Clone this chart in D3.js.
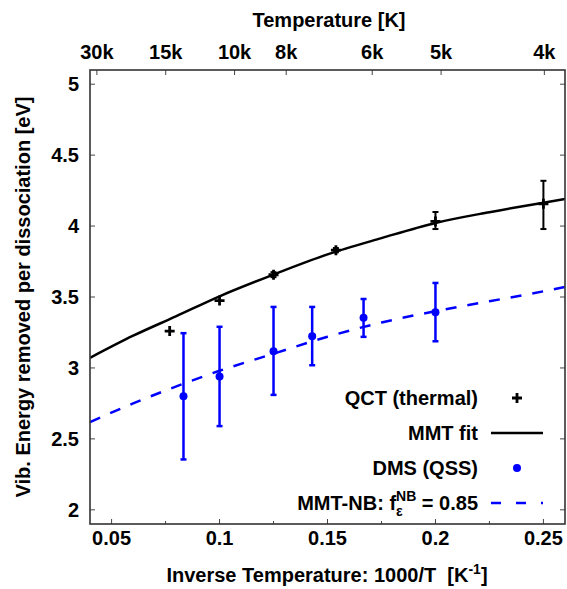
<!DOCTYPE html>
<html>
<head>
<meta charset="utf-8">
<script src="https://cdn.jsdelivr.net/npm/d3@7"></script>
<style>
  html, body { margin: 0; padding: 0; background: #fff; }
  svg text { font-family: "Liberation Sans", Arial, Helvetica, sans-serif; font-weight: bold; fill: #000; }
</style>
</head>
<body>
<div id="chart"></div>
<script>
// QCT (thermal) points, 1000/T vs energy [eV]
const qctX = [0.0769, 0.1, 0.125, 0.1539, 0.2, 0.25];
const qctY = [3.26, 3.475, 3.657, 3.83, 4.033, 4.157];
const qctLo = [null, null, 3.64, 3.815, 3.979, 3.979];
const qctHi = [null, null, 3.675, 3.845, 4.099, 4.319];

// DMS (QSS) points with error bars
const dmsX = [0.0833, 0.1, 0.125, 0.1429, 0.1667, 0.2];
const dmsY = [2.80, 2.94, 3.118, 3.223, 3.353, 3.392];
const dmsLo = [2.355, 2.59, 2.81, 3.019, 3.219, 3.188];
const dmsHi = [3.245, 3.29, 3.43, 3.43, 3.486, 3.599];

// MMT fit curve
const mmtX = [0.04, 0.06, 0.08, 0.1, 0.125, 0.15, 0.175, 0.2, 0.225, 0.25, 0.26];
const mmtY = [3.071, 3.227, 3.365, 3.505, 3.658, 3.80, 3.915, 4.022, 4.098, 4.165, 4.19];

// MMT-NB curve, f = 0.85
const nbX = [0.04, 0.06, 0.08, 0.1, 0.125, 0.15, 0.175, 0.2, 0.225, 0.25, 0.26];
const nbY = [2.618, 2.75, 2.87, 2.98, 3.10, 3.22, 3.32, 3.40, 3.47, 3.54, 3.571];

// axes
const xTicks = [0.05, 0.1, 0.15, 0.2, 0.25];
const xMinor = [0.075, 0.125, 0.175, 0.225];
const yTicks = [2, 2.5, 3, 3.5, 4, 4.5, 5];
const topTemps = [30000, 15000, 10000, 8000, 6000, 5000, 4000];
const topLabels = ['30k', '15k', '10k', '8k', '6k', '5k', '4k'];

const width = 567;
const height = 589;
const margin = { top: 70, right: 2, bottom: 65, left: 90 };
const fs = '20px';

const svg = d3.select('#chart')
  .append('svg')
  .attr('width', width)
  .attr('height', height);

const x = d3.scaleLinear().domain([0.04, 0.26]).range([margin.left, width - margin.right]);
const x2 = d3.scaleLinear().domain([0.03, 0.26]).range([margin.left, width - margin.right]);
const y = d3.scaleLinear().domain([1.9, 5.1]).range([height - margin.bottom, margin.top]);

const x0 = x.range()[0], x1 = x.range()[1];
const yB = y.range()[0], yT = y.range()[1];

// clip for the curves
svg.append('clipPath').attr('id', 'plot-clip')
  .append('rect')
  .attr('x', x0).attr('y', yT)
  .attr('width', x1 - x0).attr('height', yB - yT);

// ticks
const tickColor = '#444';
const ticks = svg.append('g').attr('class', 'ticks')
  .attr('stroke', tickColor).attr('stroke-width', 1);

xTicks.forEach(v => {
  ticks.append('line').attr('x1', x(v)).attr('x2', x(v)).attr('y1', yB).attr('y2', yB - 5);
});
xMinor.forEach(v => {
  ticks.append('line').attr('x1', x(v)).attr('x2', x(v)).attr('y1', yB).attr('y2', yB - 3);
});
yTicks.forEach(v => {
  ticks.append('line').attr('x1', x0).attr('x2', x0 + 5).attr('y1', y(v)).attr('y2', y(v));
  ticks.append('line').attr('x1', x1).attr('x2', x1 - 5).attr('y1', y(v)).attr('y2', y(v));
});
topTemps.forEach(t => {
  const v = 1000 / t;
  ticks.append('line').attr('x1', x2(v)).attr('x2', x2(v)).attr('y1', yT).attr('y2', yT + 5);
});

// tick labels
svg.append('g').selectAll('text')
  .data(xTicks)
  .enter()
  .append('text')
  .attr('x', d => x(d))
  .attr('y', 545)
  .attr('text-anchor', 'middle')
  .style('font-size', fs)
  .text(d => d);

svg.append('g').selectAll('text')
  .data(yTicks)
  .enter()
  .append('text')
  .attr('x', 79)
  .attr('y', d => y(d))
  .attr('dy', '0.36em')
  .attr('text-anchor', 'end')
  .style('font-size', fs)
  .text(d => d);

svg.append('g').selectAll('text')
  .data(topTemps)
  .enter()
  .append('text')
  .attr('x', d => x2(1000 / d))
  .attr('y', 59)
  .attr('text-anchor', 'middle')
  .style('font-size', fs)
  .text((d, i) => topLabels[i]);

// axis titles
svg.append('text')
  .attr('x', 329)
  .attr('y', 27)
  .attr('text-anchor', 'middle')
  .style('font-size', fs)
  .text('Temperature [K]');

const xl = svg.append('text')
  .attr('x', 327)
  .attr('y', 582)
  .attr('text-anchor', 'middle')
  .style('font-size', fs);
xl.append('tspan').text('Inverse Temperature: 1000/T\u00a0\u00a0[K');
xl.append('tspan').attr('dy', -8).style('font-size', '14px').text('-1');
xl.append('tspan').attr('dy', 8).text(']');

svg.append('text')
  .attr('transform', `translate(30, ${(yT + yB) / 2}) rotate(-90)`)
  .attr('text-anchor', 'middle')
  .style('font-size', fs)
  .text('Vib. Energy removed per dissociation [eV]');

// curves
const line = d3.line()
  .x(d => x(d[0]))
  .y(d => y(d[1]))
  .curve(d3.curveMonotoneX);

const plot = svg.append('g').attr('clip-path', 'url(#plot-clip)');

plot.append('path')
  .datum(mmtX.map((v, i) => [v, mmtY[i]]))
  .attr('d', line)
  .attr('fill', 'none')
  .attr('stroke', '#000')
  .attr('stroke-width', 2.5);

plot.append('path')
  .datum(nbX.map((v, i) => [v, nbY[i]]))
  .attr('d', line)
  .attr('fill', 'none')
  .attr('stroke', '#0000ff')
  .attr('stroke-width', 2.5)
  .attr('stroke-dasharray', '11,11');

// QCT error bars and crosses
const qct = qctX.map((v, i) => ({ x: v, y: qctY[i], lo: qctLo[i], hi: qctHi[i] }));

const qctBars = plot.append('g')
  .attr('stroke', '#000')
  .attr('stroke-width', 2)
  .selectAll('g')
  .data(qct.filter(d => d.lo !== null))
  .enter()
  .append('g');

qctBars.append('line')
  .attr('x1', d => x(d.x)).attr('x2', d => x(d.x))
  .attr('y1', d => y(d.lo)).attr('y2', d => y(d.hi));
qctBars.append('line')
  .attr('x1', d => x(d.x) - 3).attr('x2', d => x(d.x) + 3)
  .attr('y1', d => y(d.lo)).attr('y2', d => y(d.lo));
qctBars.append('line')
  .attr('x1', d => x(d.x) - 3).attr('x2', d => x(d.x) + 3)
  .attr('y1', d => y(d.hi)).attr('y2', d => y(d.hi));

plot.append('g')
  .selectAll('path')
  .data(qct)
  .enter()
  .append('path')
  .attr('d', 'M-5,0H5M0,-5V5')
  .attr('transform', d => `translate(${x(d.x)}, ${y(d.y)})`)
  .attr('stroke', '#000')
  .attr('stroke-width', 2.8)
  .attr('fill', 'none');

// DMS error bars and dots
const dms = dmsX.map((v, i) => ({ x: v, y: dmsY[i], lo: dmsLo[i], hi: dmsHi[i] }));

const dmsBars = plot.append('g')
  .attr('stroke', '#0000ff')
  .attr('stroke-width', 2.5)
  .selectAll('g')
  .data(dms)
  .enter()
  .append('g');

dmsBars.append('line')
  .attr('x1', d => x(d.x)).attr('x2', d => x(d.x))
  .attr('y1', d => y(d.lo)).attr('y2', d => y(d.hi));
dmsBars.append('line')
  .attr('x1', d => x(d.x) - 3).attr('x2', d => x(d.x) + 3)
  .attr('y1', d => y(d.lo)).attr('y2', d => y(d.lo));
dmsBars.append('line')
  .attr('x1', d => x(d.x) - 3).attr('x2', d => x(d.x) + 3)
  .attr('y1', d => y(d.hi)).attr('y2', d => y(d.hi));

plot.append('g')
  .selectAll('circle')
  .data(dms)
  .enter()
  .append('circle')
  .attr('cx', d => x(d.x))
  .attr('cy', d => y(d.y))
  .attr('r', 4)
  .attr('fill', '#0000ff');

// frame
svg.append('rect')
  .attr('x', x0).attr('y', yT)
  .attr('width', x1 - x0).attr('height', yB - yT)
  .attr('fill', 'none')
  .attr('stroke', '#333')
  .attr('stroke-width', 1.6);

// legend
const legend = svg.append('g').attr('class', 'legend');
const legX = 478, sx0 = 491, sx1 = 543, sxc = 517;
const rows = [398, 433, 468, 503];

legend.append('text').attr('x', legX).attr('y', rows[0]).attr('dy', '0.36em')
  .attr('text-anchor', 'end').style('font-size', fs).text('QCT (thermal)');
legend.append('path').attr('d', 'M-5,0H5M0,-5V5')
  .attr('transform', `translate(${sxc}, ${rows[0]})`)
  .attr('stroke', '#000').attr('stroke-width', 2.8);

legend.append('text').attr('x', legX).attr('y', rows[1]).attr('dy', '0.36em')
  .attr('text-anchor', 'end').style('font-size', fs).text('MMT fit');
legend.append('line').attr('x1', sx0).attr('x2', sx1).attr('y1', rows[1]).attr('y2', rows[1])
  .attr('stroke', '#000').attr('stroke-width', 2.5);

legend.append('text').attr('x', legX).attr('y', rows[2]).attr('dy', '0.36em')
  .attr('text-anchor', 'end').style('font-size', fs).text('DMS (QSS)');
legend.append('circle').attr('cx', sxc).attr('cy', rows[2]).attr('r', 4).attr('fill', '#0000ff');

const nbText = legend.append('text').attr('x', legX).attr('y', rows[3]).attr('dy', '0.36em')
  .attr('text-anchor', 'end').style('font-size', fs);
nbText.append('tspan').text('MMT-NB: f');
const sup = nbText.append('tspan').attr('dy', -9).style('font-size', '14px').text('NB');
const sub = nbText.append('tspan').attr('dy', 15).style('font-size', '14px').text('\u03b5');
nbText.append('tspan').attr('dy', -6).text(' = 0.85');
// stack the subscript under the superscript
const supW = sup.node().getComputedTextLength();
const subW = sub.node().getComputedTextLength();
sub.attr('dx', -supW);
nbText.select('tspan:last-child').attr('dx', supW - subW);

legend.append('line').attr('x1', sx0).attr('x2', sx1).attr('y1', rows[3]).attr('y2', rows[3])
  .attr('stroke', '#0000ff').attr('stroke-width', 2.5)
  .attr('stroke-dasharray', '10,15');
</script>
</body>
</html>
